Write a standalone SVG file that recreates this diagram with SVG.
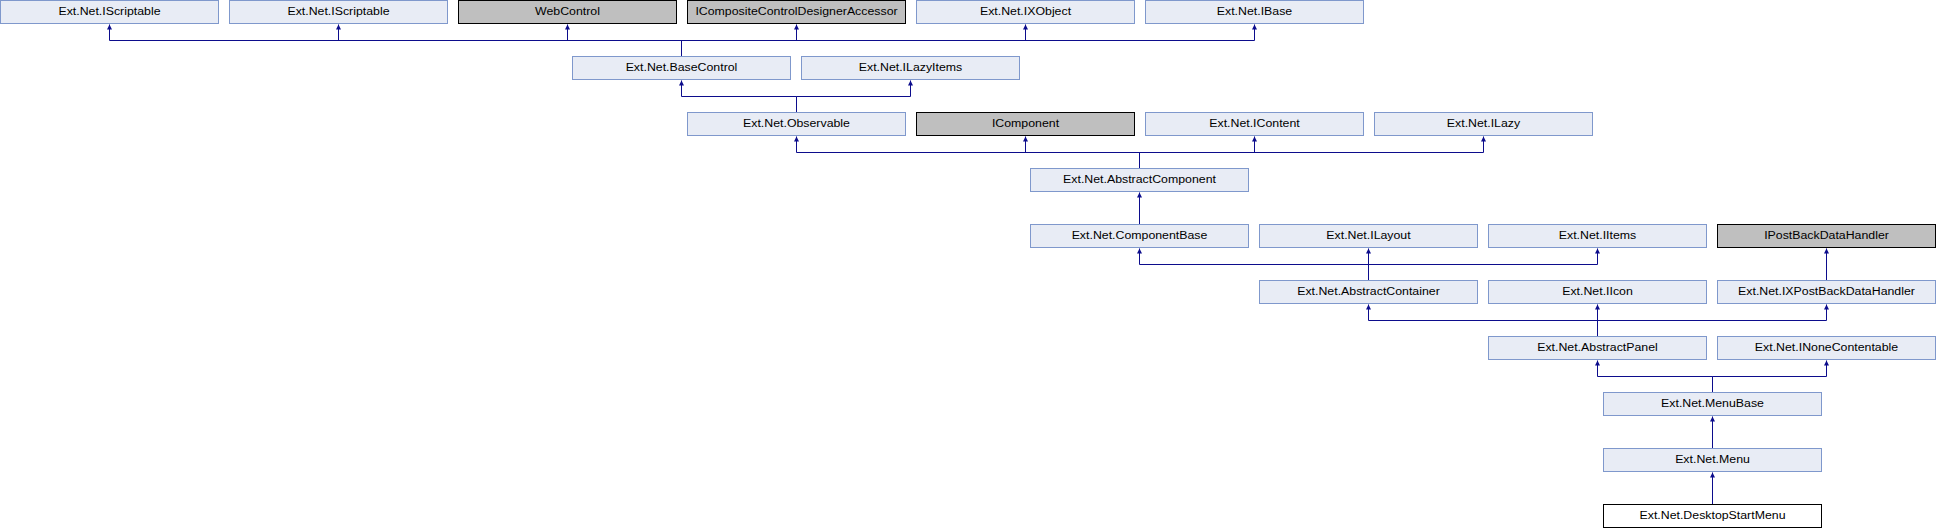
<svg xmlns="http://www.w3.org/2000/svg" width="1936" height="528" viewBox="0 0 1936 528">
<style>
.n rect{fill:#e8ecf5;stroke:#7f98cc;stroke-width:1}
.n.g rect{fill:#bfbfbf;stroke:#000}
.n.w rect{fill:#fff;stroke:#000}
.n text{font-family:"Liberation Sans",Arial,sans-serif;font-size:10.2px;fill:#000;text-anchor:middle}
#edges path{fill:none;stroke:#0c0c8c;stroke-width:1;marker-end:url(#ah)}
</style>
<defs>
<marker id="ah" viewBox="0 0 10 10" refX="10" refY="5" markerWidth="6" markerHeight="5" markerUnits="userSpaceOnUse" orient="auto">
<path d="M0,0 L10,5 L0,10 z" fill="#0c0c8c"/>
</marker>
</defs>
<rect width="1936" height="528" fill="#fff"/>
<g id="edges">
<path d="M681.5,56.5V40.5H109.5V24.5"/>
<path d="M681.5,56.5V40.5H338.5V24.5"/>
<path d="M681.5,56.5V40.5H567.5V24.5"/>
<path d="M681.5,56.5V40.5H796.5V24.5"/>
<path d="M681.5,56.5V40.5H1025.5V24.5"/>
<path d="M681.5,56.5V40.5H1254.5V24.5"/>
<path d="M796.5,112.5V96.5H681.5V80.5"/>
<path d="M796.5,112.5V96.5H910.5V80.5"/>
<path d="M1139.5,168.5V152.5H796.5V136.5"/>
<path d="M1139.5,168.5V152.5H1025.5V136.5"/>
<path d="M1139.5,168.5V152.5H1254.5V136.5"/>
<path d="M1139.5,168.5V152.5H1483.5V136.5"/>
<path d="M1139.5,224.5V192.5"/>
<path d="M1368.5,280.5V264.5H1139.5V248.5"/>
<path d="M1368.5,280.5V248.5"/>
<path d="M1368.5,280.5V264.5H1597.5V248.5"/>
<path d="M1826.5,280.5V248.5"/>
<path d="M1597.5,336.5V320.5H1368.5V304.5"/>
<path d="M1597.5,336.5V304.5"/>
<path d="M1597.5,336.5V320.5H1826.5V304.5"/>
<path d="M1712.5,392.5V376.5H1597.5V360.5"/>
<path d="M1712.5,392.5V376.5H1826.5V360.5"/>
<path d="M1712.5,448.5V416.5"/>
<path d="M1712.5,504.5V472.5"/>
</g>
<g id="n0a" class="n"><rect x="0.5" y="0.5" width="218" height="23"/><text transform="translate(109.5,15) scale(1.21,1)">Ext.Net.IScriptable</text></g>
<g id="n0b" class="n"><rect x="229.5" y="0.5" width="218" height="23"/><text transform="translate(338.5,15) scale(1.21,1)">Ext.Net.IScriptable</text></g>
<g id="n0c" class="n g"><rect x="458.5" y="0.5" width="218" height="23"/><text transform="translate(567.5,15) scale(1.21,1)">WebControl</text></g>
<g id="n0d" class="n g"><rect x="687.5" y="0.5" width="218" height="23"/><text transform="translate(796.5,15) scale(1.21,1)">ICompositeControlDesignerAccessor</text></g>
<g id="n0e" class="n"><rect x="916.5" y="0.5" width="218" height="23"/><text transform="translate(1025.5,15) scale(1.21,1)">Ext.Net.IXObject</text></g>
<g id="n0f" class="n"><rect x="1145.5" y="0.5" width="218" height="23"/><text transform="translate(1254.5,15) scale(1.21,1)">Ext.Net.IBase</text></g>
<g id="n1a" class="n"><rect x="572.5" y="56.5" width="218" height="23"/><text transform="translate(681.5,71) scale(1.21,1)">Ext.Net.BaseControl</text></g>
<g id="n1b" class="n"><rect x="801.5" y="56.5" width="218" height="23"/><text transform="translate(910.5,71) scale(1.21,1)">Ext.Net.ILazyItems</text></g>
<g id="n2a" class="n"><rect x="687.5" y="112.5" width="218" height="23"/><text transform="translate(796.5,127) scale(1.21,1)">Ext.Net.Observable</text></g>
<g id="n2b" class="n g"><rect x="916.5" y="112.5" width="218" height="23"/><text transform="translate(1025.5,127) scale(1.21,1)">IComponent</text></g>
<g id="n2c" class="n"><rect x="1145.5" y="112.5" width="218" height="23"/><text transform="translate(1254.5,127) scale(1.21,1)">Ext.Net.IContent</text></g>
<g id="n2d" class="n"><rect x="1374.5" y="112.5" width="218" height="23"/><text transform="translate(1483.5,127) scale(1.21,1)">Ext.Net.ILazy</text></g>
<g id="n3a" class="n"><rect x="1030.5" y="168.5" width="218" height="23"/><text transform="translate(1139.5,183) scale(1.21,1)">Ext.Net.AbstractComponent</text></g>
<g id="n4a" class="n"><rect x="1030.5" y="224.5" width="218" height="23"/><text transform="translate(1139.5,239) scale(1.21,1)">Ext.Net.ComponentBase</text></g>
<g id="n4b" class="n"><rect x="1259.5" y="224.5" width="218" height="23"/><text transform="translate(1368.5,239) scale(1.21,1)">Ext.Net.ILayout</text></g>
<g id="n4c" class="n"><rect x="1488.5" y="224.5" width="218" height="23"/><text transform="translate(1597.5,239) scale(1.21,1)">Ext.Net.IItems</text></g>
<g id="n4d" class="n g"><rect x="1717.5" y="224.5" width="218" height="23"/><text transform="translate(1826.5,239) scale(1.21,1)">IPostBackDataHandler</text></g>
<g id="n5a" class="n"><rect x="1259.5" y="280.5" width="218" height="23"/><text transform="translate(1368.5,295) scale(1.21,1)">Ext.Net.AbstractContainer</text></g>
<g id="n5b" class="n"><rect x="1488.5" y="280.5" width="218" height="23"/><text transform="translate(1597.5,295) scale(1.21,1)">Ext.Net.IIcon</text></g>
<g id="n5c" class="n"><rect x="1717.5" y="280.5" width="218" height="23"/><text transform="translate(1826.5,295) scale(1.21,1)">Ext.Net.IXPostBackDataHandler</text></g>
<g id="n6a" class="n"><rect x="1488.5" y="336.5" width="218" height="23"/><text transform="translate(1597.5,351) scale(1.21,1)">Ext.Net.AbstractPanel</text></g>
<g id="n6b" class="n"><rect x="1717.5" y="336.5" width="218" height="23"/><text transform="translate(1826.5,351) scale(1.21,1)">Ext.Net.INoneContentable</text></g>
<g id="n7" class="n"><rect x="1603.5" y="392.5" width="218" height="23"/><text transform="translate(1712.5,407) scale(1.21,1)">Ext.Net.MenuBase</text></g>
<g id="n8" class="n"><rect x="1603.5" y="448.5" width="218" height="23"/><text transform="translate(1712.5,463) scale(1.21,1)">Ext.Net.Menu</text></g>
<g id="n9" class="n w"><rect x="1603.5" y="504.5" width="218" height="23"/><text transform="translate(1712.5,519) scale(1.21,1)">Ext.Net.DesktopStartMenu</text></g>
</svg>
